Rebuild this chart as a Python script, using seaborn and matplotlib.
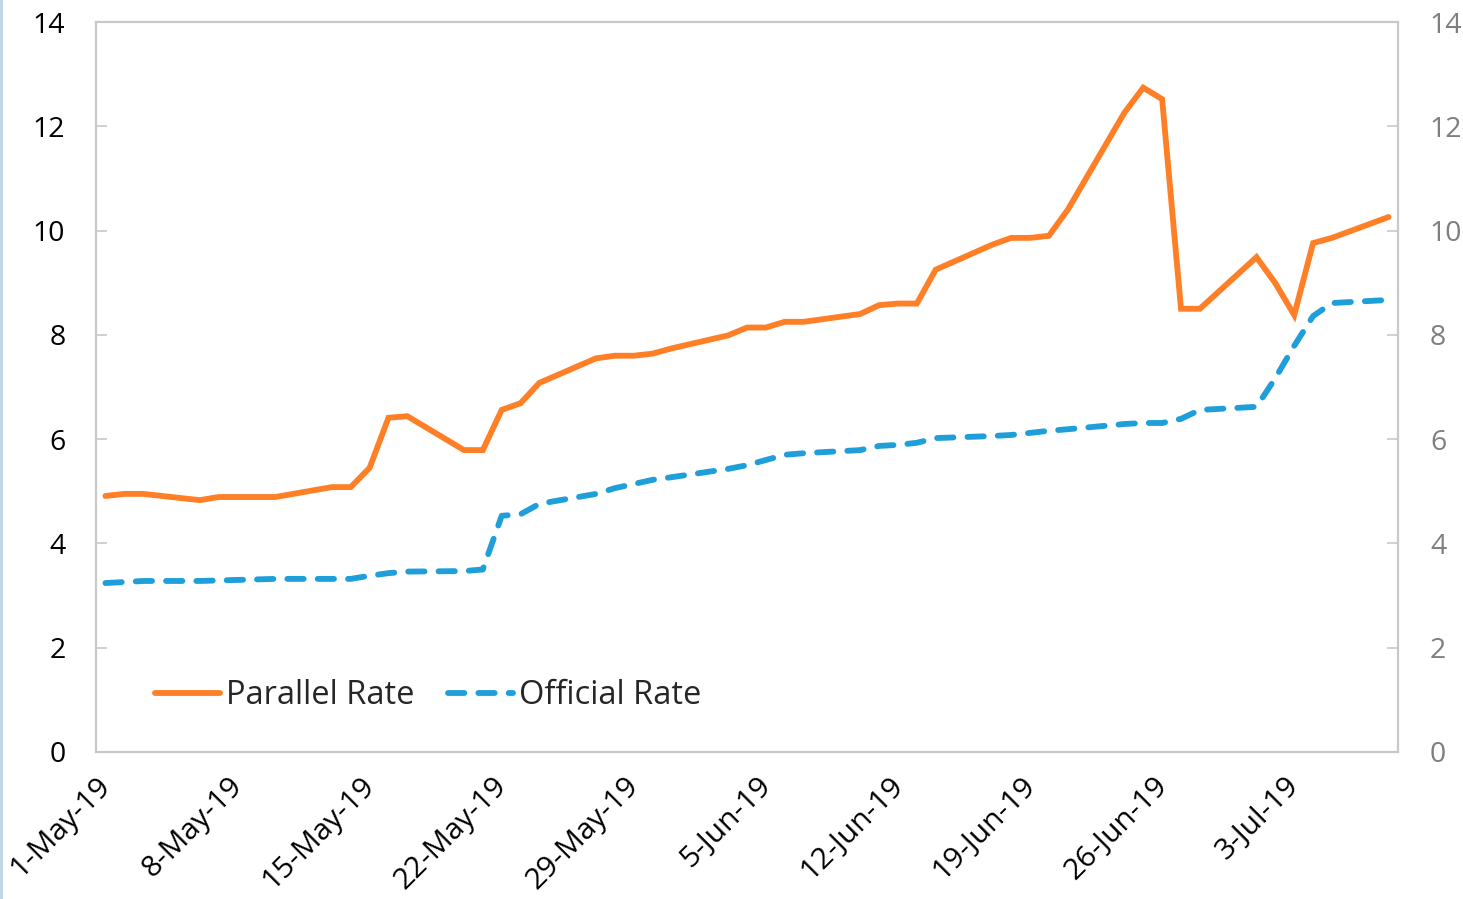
import matplotlib
matplotlib.use("Agg")
import matplotlib.pyplot as plt
import matplotlib.dates as mdates
from matplotlib.lines import Line2D
import numpy as np
import pandas as pd
import seaborn as sns

dates = ["2019-05-01", "2019-05-02", "2019-05-03", "2019-05-06", "2019-05-07", "2019-05-08",
         "2019-05-09", "2019-05-10", "2019-05-13", "2019-05-14", "2019-05-15", "2019-05-16",
         "2019-05-17", "2019-05-20", "2019-05-21", "2019-05-22", "2019-05-23", "2019-05-24",
         "2019-05-27", "2019-05-28", "2019-05-29", "2019-05-30", "2019-05-31", "2019-06-03",
         "2019-06-04", "2019-06-05", "2019-06-06", "2019-06-07", "2019-06-10", "2019-06-11",
         "2019-06-12", "2019-06-13", "2019-06-14", "2019-06-17", "2019-06-18", "2019-06-19",
         "2019-06-20", "2019-06-21", "2019-06-24", "2019-06-25", "2019-06-26", "2019-06-27",
         "2019-06-28", "2019-07-01", "2019-07-02", "2019-07-03", "2019-07-04", "2019-07-05",
         "2019-07-08"]

parallel_rate = [4.91, 4.95, 4.95, 4.83, 4.89, 4.89,
                 4.89, 4.89, 5.08, 5.08, 5.45, 6.41,
                 6.44, 5.79, 5.79, 6.56, 6.69, 7.08,
                 7.55, 7.60, 7.60, 7.64, 7.74, 7.99,
                 8.14, 8.14, 8.25, 8.25, 8.40, 8.57,
                 8.60, 8.60, 9.25, 9.73, 9.86, 9.86,
                 9.90, 10.40, 12.26, 12.74, 12.52, 8.50,
                 8.50, 9.49, 8.99, 8.38, 9.76, 9.86,
                 10.26]

official_rate = [3.24, 3.26, 3.28, 3.28, 3.29, 3.30,
                 3.31, 3.32, 3.32, 3.32, 3.38, 3.43,
                 3.46, 3.47, 3.50, 4.53, 4.56, 4.76,
                 4.95, 5.06, 5.14, 5.22, 5.27, 5.43,
                 5.50, 5.60, 5.70, 5.73, 5.79, 5.87,
                 5.89, 5.93, 6.02, 6.06, 6.08, 6.12,
                 6.16, 6.19, 6.29, 6.31, 6.31, 6.39,
                 6.56, 6.62, 7.17, 7.79, 8.36, 8.61,
                 8.67]

tick_dates = ["2019-05-01", "2019-05-08", "2019-05-15", "2019-05-22", "2019-05-29",
              "2019-06-05", "2019-06-12", "2019-06-19", "2019-06-26", "2019-07-03"]
tick_labels = ["1-May-19", "8-May-19", "15-May-19", "22-May-19", "29-May-19",
               "5-Jun-19", "12-Jun-19", "19-Jun-19", "26-Jun-19", "3-Jul-19"]
y_ticks = [0, 2, 4, 6, 8, 10, 12, 14]

sns.set_style("white")
plt.rcParams['font.family'] = ['Open Sans', 'DejaVu Sans']

df = pd.DataFrame({
    "date": pd.to_datetime(dates),
    "Parallel Rate": parallel_rate,
    "Official Rate": official_rate,
})
long = df.melt(id_vars="date", var_name="series", value_name="rate")

W, H = 1463, 899
fig = plt.figure(figsize=(W / 100, H / 100), dpi=100)
ax = fig.add_axes([96 / W, 1 - 752 / H, (1398 - 96) / W, (752 - 22) / H])

orange = "#FF7F27"
blue = "#1E9FDA"
LW = 4.2
sns.lineplot(data=long, x="date", y="rate", hue="series", style="series",
             palette={"Parallel Rate": orange, "Official Rate": blue},
             dashes={"Parallel Rate": "", "Official Rate": (2.8, 2.4)},
             linewidth=LW, ax=ax, legend=False)
for ln in ax.lines:
    ln.set_solid_capstyle("round")
    ln.set_dash_capstyle("round")
    ln.set_solid_joinstyle("miter")

start = mdates.date2num(pd.Timestamp(dates[0]))
end = mdates.date2num(pd.Timestamp(dates[-1]))
ax.set_xlim(start - 0.5, end + 0.5)
ax.set_ylim(0, 14)
tpos = [mdates.date2num(pd.Timestamp(d)) - 0.5 for d in tick_dates]
ax.set_xticks(tpos)
ax.set_xticklabels(tick_labels, rotation=45, ha="right", rotation_mode="anchor",
                   fontsize=21.5, color="#000000")
ax.set_yticks(y_ticks)
ax.set_yticklabels([str(v) for v in y_ticks], fontsize=20.5, color="#000000")
ax.set_xlabel("")
ax.set_ylabel("")

spine_c = "#C8C8C8"
for s in ax.spines.values():
    s.set_visible(True)
    s.set_color(spine_c)
    s.set_linewidth(1.5)
ax.tick_params(axis="both", direction="in", length=8, width=1.2, color=spine_c)
ax.tick_params(axis="y", pad=22)
ax.tick_params(axis="x", pad=14)
ax.grid(False)

ax2 = ax.twinx()
ax2.set_ylim(0, 14)
ax2.set_yticks(y_ticks)
ax2.set_yticklabels([str(v) for v in y_ticks], fontsize=20.5, color="#7F7F7F")
ax2.tick_params(axis="y", direction="in", length=8, width=1.2, color=spine_c, pad=23)
for s in ax2.spines.values():
    s.set_color(spine_c)
    s.set_linewidth(1.5)
ax2.grid(False)

handles = [Line2D([0], [0], color=orange, lw=LW, solid_capstyle="round"),
           Line2D([0], [0], color=blue, lw=LW, dashes=(2.8, 2.4), dash_capstyle="round")]
ax.legend(handles, ["Parallel Rate", "Official Rate"], loc="center left",
          bbox_to_anchor=(0.035, 0.077), borderaxespad=0, ncol=2, frameon=False,
          fontsize=23.5, handlelength=2.0, handletextpad=0.2, columnspacing=1.0)

fig.add_artist(Line2D([0.001, 0.001], [0, 1], transform=fig.transFigure,
                      color="#BFD4E6", lw=2))

fig.savefig("out.png", dpi=100)
